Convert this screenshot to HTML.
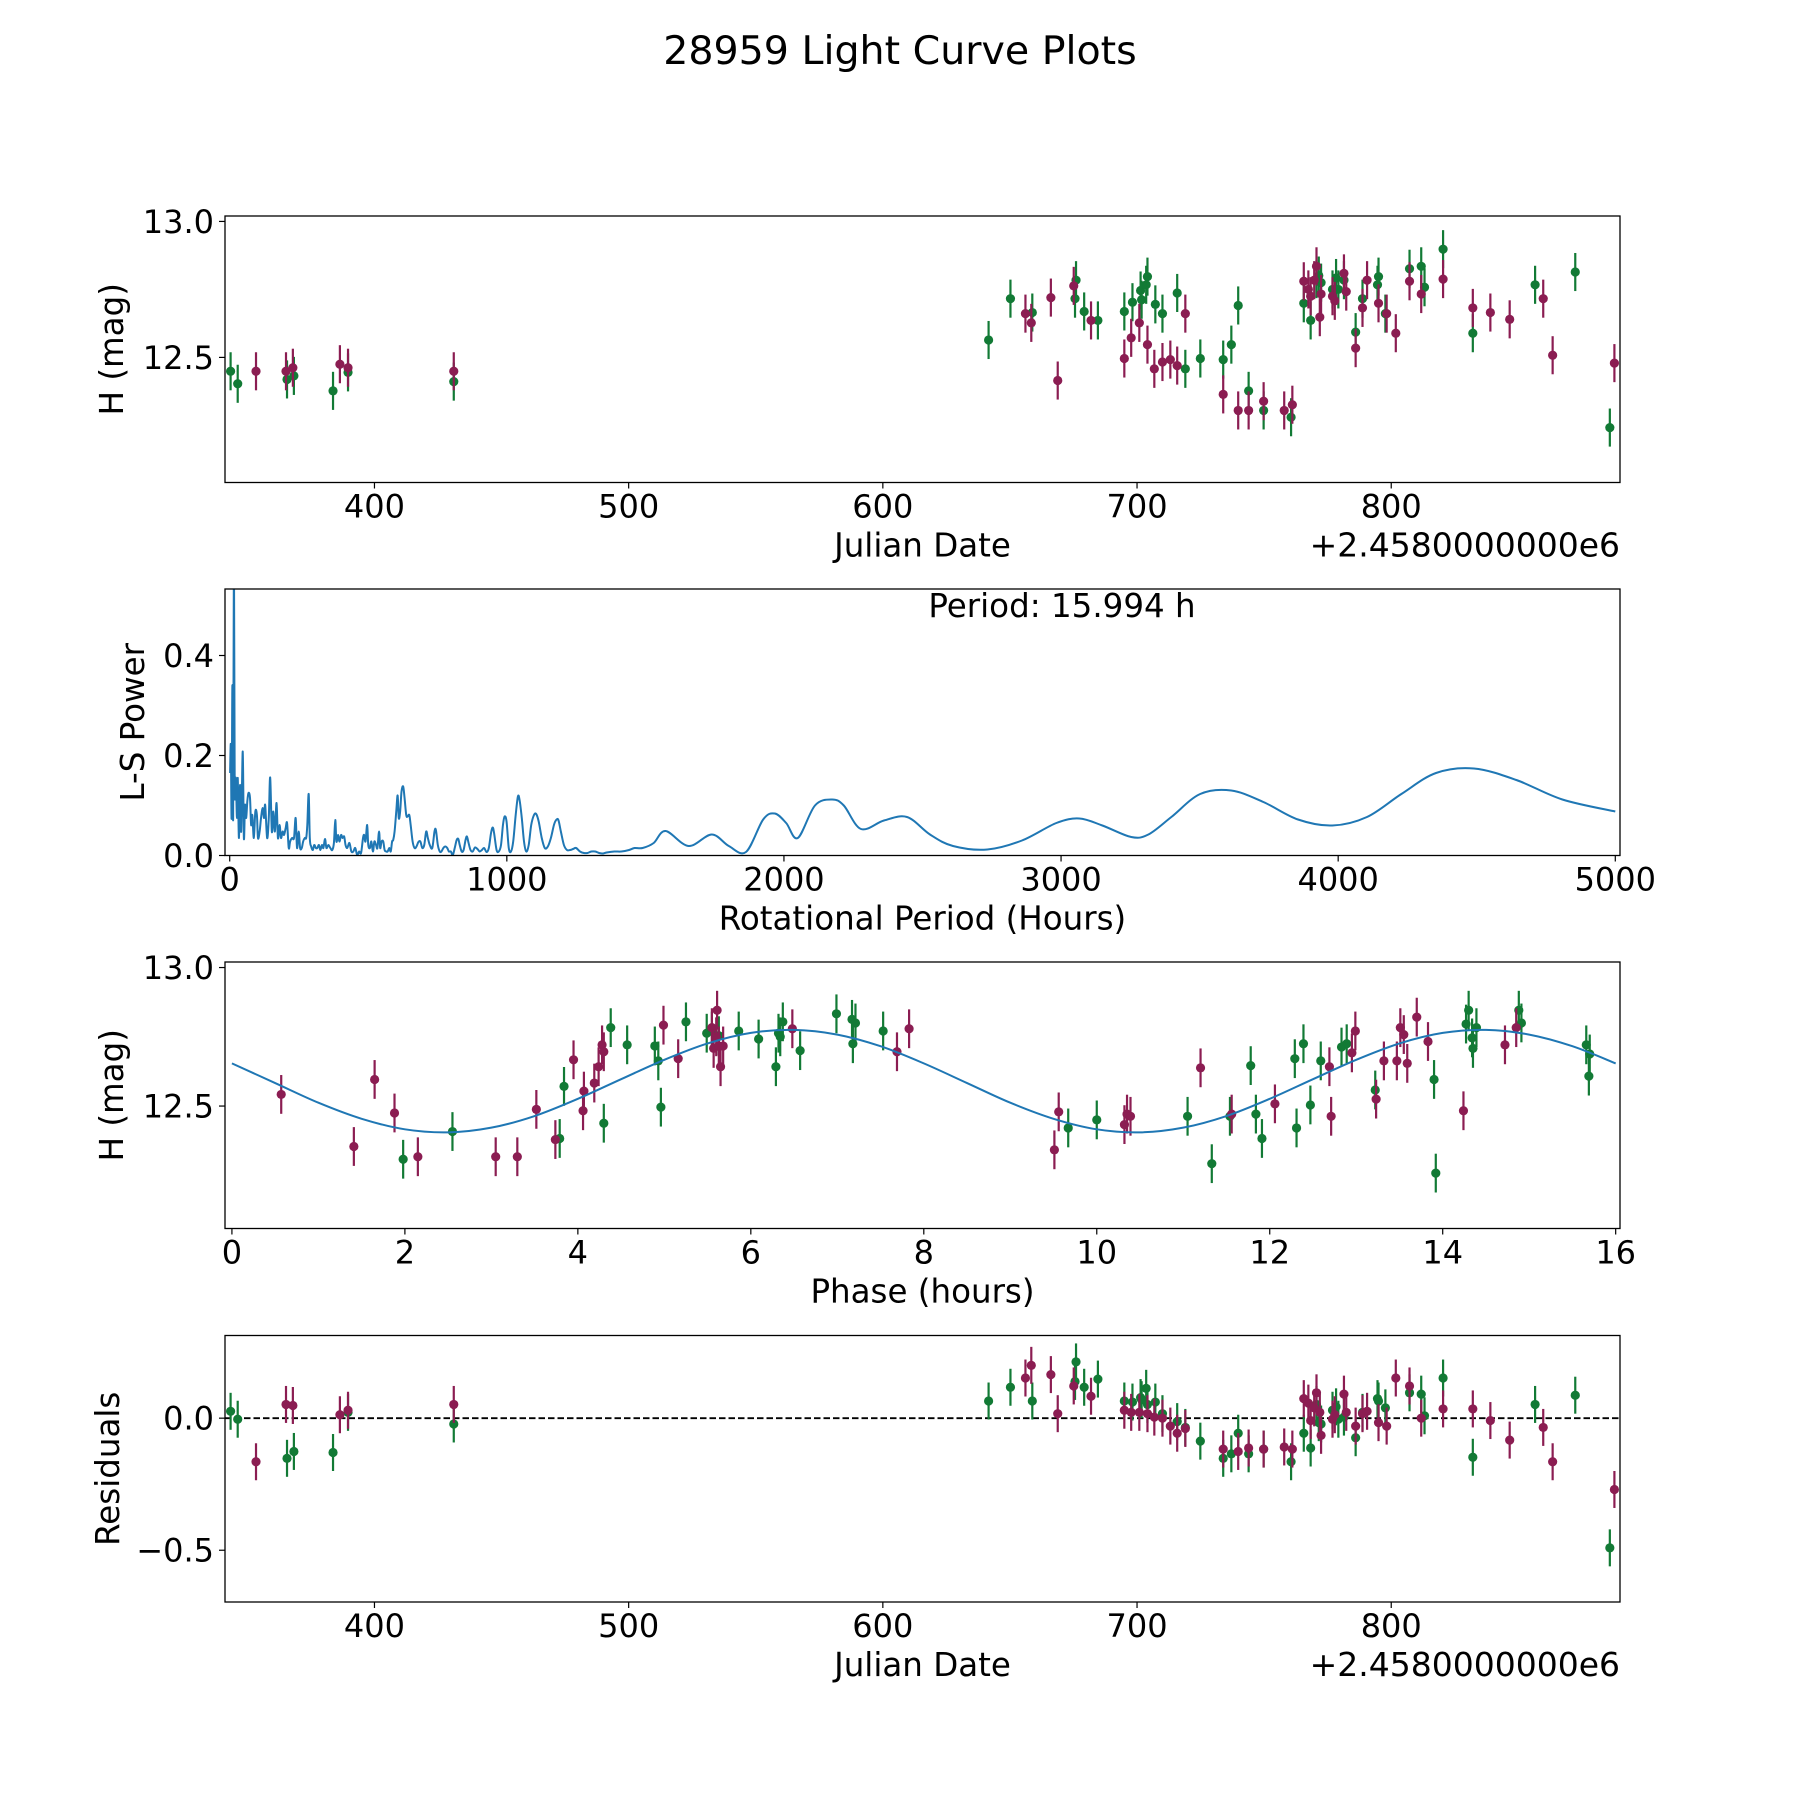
<!DOCTYPE html>
<html><head><meta charset="utf-8"><title>28959 Light Curve Plots</title>
<style>
html,body{margin:0;padding:0;background:#fff;}
svg{display:block;font-family:"DejaVu Sans","Liberation Sans",sans-serif;}
</style></head>
<body>
<svg id="fig" width="1800" height="1800" viewBox="0 0 1800 1800" xmlns="http://www.w3.org/2000/svg">
<rect x="0" y="0" width="1800" height="1800" fill="#fff"/>
<text x="900" y="64" font-size="39.5" text-anchor="middle">28959 Light Curve Plots</text>
</svg>
<script>
// ---------- data ----------
const jdGreen=[343.4,346.2,365.6,368.3,383.7,389.6,431.2,641.6,650.2,658.8,675.6,676.0,679.2,684.6,695.0,698.2,701.4,701.8,703.6,704.1,707.2,710.0,715.8,719.0,724.9,733.9,737.1,739.8,743.9,749.8,760.6,765.6,768.3,770.6,771.5,772.4,776.9,778.3,779.2,781.4,786.0,788.7,794.6,795.0,797.7,807.2,811.8,813.1,820.4,832.1,856.6,872.4,886.0];
const magGreen=[12.449,12.403,12.419,12.432,12.377,12.445,12.411,12.564,12.716,12.665,12.716,12.784,12.669,12.636,12.669,12.703,12.746,12.712,12.767,12.797,12.695,12.661,12.737,12.458,12.496,12.492,12.547,12.691,12.377,12.305,12.280,12.699,12.636,12.788,12.801,12.775,12.750,12.792,12.750,12.784,12.593,12.716,12.767,12.797,12.661,12.826,12.835,12.758,12.898,12.589,12.767,12.814,12.242];
const resGreen=[0.026,-0.004,-0.152,-0.126,-0.130,0.022,-0.022,0.065,0.117,0.065,0.139,0.213,0.117,0.148,0.065,0.061,0.078,0.070,0.113,0.052,0.061,0.017,-0.013,-0.035,-0.087,-0.152,-0.135,-0.057,-0.135,-0.117,-0.165,-0.057,-0.113,0.052,-0.017,-0.022,0.030,0.043,-0.004,0.004,-0.074,0.022,0.074,0.065,0.039,0.096,0.091,0.009,0.152,-0.148,0.052,0.087,-0.491];
const jdMag=[353.4,365.2,367.9,386.4,389.6,431.2,656.1,658.4,666.1,668.8,675.1,681.9,695.0,697.7,700.9,704.1,706.8,710.0,713.1,715.8,719.0,733.9,739.8,743.9,749.8,757.9,761.1,765.6,767.4,768.3,769.7,770.6,772.4,771.9,776.9,777.8,781.4,782.3,786.0,788.7,790.5,795.0,798.2,801.8,807.2,811.8,820.4,832.1,839.0,846.6,859.8,863.5,887.8];
const magMag=[12.449,12.449,12.462,12.475,12.462,12.449,12.661,12.627,12.720,12.415,12.763,12.636,12.496,12.572,12.627,12.547,12.458,12.483,12.492,12.470,12.661,12.364,12.305,12.305,12.339,12.305,12.326,12.780,12.750,12.725,12.784,12.835,12.733,12.648,12.725,12.708,12.809,12.742,12.534,12.682,12.784,12.699,12.661,12.589,12.780,12.733,12.788,12.682,12.665,12.640,12.716,12.508,12.479];
const resMag=[-0.165,0.052,0.048,0.013,0.030,0.052,0.152,0.200,0.165,0.017,0.122,0.083,0.030,0.022,0.022,0.017,0.004,0,-0.030,-0.057,-0.039,-0.117,-0.126,-0.113,-0.117,-0.109,-0.117,0.074,0.057,-0.009,0.039,0.096,-0.065,0.022,-0.004,0.013,0.091,0.022,-0.030,0.017,0.026,-0.017,-0.030,0.152,0.122,0,0.035,0.035,-0.009,-0.083,-0.035,-0.165,-0.270];
const errMag=0.07;
const phaseGreen=[1.98,2.55,3.79,3.84,4.30,4.38,4.57,4.89,4.93,4.96,5.25,5.49,5.55,5.63,5.86,6.09,6.29,6.32,6.34,6.37,6.57,6.99,7.17,7.21,7.18,7.53,9.67,10.0,11.05,11.33,11.54,11.78,11.84,11.91,12.29,12.31,12.39,12.47,12.59,12.83,12.89,13.22,13.90,13.92,14.27,14.30,14.34,14.35,14.39,14.88,14.91,15.66,15.69,15.70];
const phaseMagGreen=[12.308,12.408,12.383,12.571,12.438,12.783,12.721,12.717,12.663,12.496,12.804,12.763,12.771,12.754,12.771,12.742,12.642,12.763,12.75,12.804,12.7,12.833,12.813,12.8,12.725,12.771,12.421,12.45,12.463,12.292,12.463,12.646,12.471,12.383,12.671,12.421,12.725,12.504,12.663,12.713,12.725,12.558,12.596,12.258,12.796,12.846,12.746,12.708,12.783,12.846,12.8,12.721,12.608,12.688];
const phaseMag=[0.57,1.41,1.65,1.88,2.15,3.05,3.30,3.52,3.74,3.95,4.06,4.07,4.19,4.24,4.28,4.30,4.99,5.16,5.55,5.57,5.60,5.61,5.63,5.65,5.68,6.48,7.69,7.83,9.51,9.56,10.32,10.35,10.39,11.20,11.56,12.06,12.69,12.71,12.95,12.99,13.23,13.32,13.47,13.51,13.55,13.59,13.70,13.83,14.24,14.72,14.85];
const phaseMagMag=[12.542,12.354,12.596,12.475,12.317,12.317,12.317,12.488,12.379,12.667,12.483,12.554,12.583,12.642,12.721,12.696,12.792,12.671,12.783,12.708,12.75,12.846,12.717,12.642,12.717,12.779,12.696,12.779,12.342,12.479,12.433,12.471,12.463,12.638,12.471,12.508,12.642,12.463,12.692,12.771,12.525,12.663,12.663,12.783,12.758,12.654,12.821,12.733,12.483,12.721,12.783];
const fitPhase=[0,0.5,1,1.5,2,2.5,3,3.5,4,4.5,5,5.5,6,6.5,7,7.5,8,8.5,9,9.5,10,10.5,11,11.5,12,12.5,13,13.5,14,14.5,15,15.5,16];
const fitMag=[12.654,12.583,12.512,12.454,12.416,12.405,12.422,12.464,12.526,12.597,12.667,12.726,12.764,12.775,12.758,12.716,12.654,12.583,12.512,12.454,12.416,12.405,12.422,12.464,12.526,12.597,12.667,12.726,12.764,12.775,12.758,12.716,12.654];
const periods=[1.4,4.1,6.9,9.7,12.4,15.2,18,22.1,26.2,29,33.1,37.3,41.4,47,51.1,55.2,59.4,63.5,67.7,73.2,77.3,81.5,87,92.5,98.1,102,108,113,119,124,128,135,141,146,152,157,163,169,174,180,185,191,196,202,207,213,218,225,232,238,243,249,254,260,265,271,276,280,285,289,294,300,305,311,316,322,327,333,338,344,349,356,363,370,376,381,385,391,396,402,407,413,418,424,432,439,446,453,460,467,474,481,485,490,496,500,506,511,517,522,528,533,539,543,548,554,559,565,570,576,581,586,590,595,601,606,610,615,620,626,631,637,642,648,653,660,667,674,681,688,695,702,709,715,722,731,739,744,751,758,764,771,778,785,791,798,805,812,819,825,830,837,844,851,856,862,869,877,885,894,902,910,918,927,935,943,949,954,963,971,979,986,992,999,1007,1015,1023,1032,1040,1046,1054,1062,1070,1079,1088,1098,1106,1115,1126,1137,1148,1159,1170,1178,1186,1195,1206,1217,1228,1239,1250,1264,1278,1291,1305,1319,1333,1347,1360,1388,1413,1441,1461,1490,1530,1573,1656,1739,1801,1863,1925,1967,2008,2050,2112,2174,2216,2278,2361,2444,2527,2610,2734,2859,2983,3066,3149,3253,3315,3398,3502,3614,3730,3855,3979,4104,4228,4353,4490,4643,4809,5000];
const powers=[0.165,0.221,0.075,0.341,0.075,0.62,0.141,0.155,0.075,0.155,0.035,0.141,0.048,0.208,0.035,0.101,0.075,0.108,0.125,0.115,0.061,0.081,0.035,0.088,0.081,0.035,0.048,0.075,0.095,0.075,0.101,0.035,0.075,0.156,0.048,0.088,0.048,0.105,0.035,0.061,0.035,0.048,0.041,0.055,0.065,0.015,0.028,0.035,0.035,0.075,0.015,0.048,0.015,0.015,0.028,0.035,0.035,0.061,0.123,0.035,0.018,0.011,0.021,0.015,0.015,0.021,0.011,0.021,0.015,0.033,0.015,0.021,0.015,0.011,0.025,0.071,0.028,0.041,0.028,0.041,0.035,0.038,0.021,0.015,0.025,0.008,0.008,0.015,0.001,0.008,0.005,0.035,0.041,0.028,0.061,0.021,0.015,0.028,0.008,0.028,0.021,0.015,0.048,0.015,0.028,0.028,0.011,0.008,0.008,0.015,0.008,0.028,0.031,0.048,0.088,0.120,0.075,0.088,0.128,0.138,0.115,0.081,0.078,0.081,0.061,0.028,0.015,0.018,0.027,0.028,0.015,0.021,0.048,0.035,0.021,0.015,0.048,0.051,0.021,0.008,0.008,0.015,0.018,0.015,0.008,0.008,0.001,0.015,0.031,0.033,0.021,0.008,0.011,0.031,0.038,0.025,0.011,0.008,0.016,0.013,0.008,0.011,0.015,0.007,0.015,0.045,0.056,0.045,0.011,0.008,0.021,0.061,0.078,0.068,0.015,0.008,0.028,0.081,0.118,0.111,0.075,0.028,0.008,0.021,0.061,0.081,0.083,0.068,0.035,0.015,0.018,0.035,0.061,0.071,0.071,0.048,0.021,0.011,0.011,0.013,0.015,0.008,0.005,0.005,0.008,0.008,0.005,0.004,0.006,0.008,0.008,0.011,0.015,0.015,0.025,0.049,0.019,0.042,0.019,0.007,0.072,0.084,0.065,0.035,0.100,0.112,0.100,0.053,0.070,0.077,0.042,0.019,0.012,0.030,0.065,0.074,0.060,0.037,0.042,0.077,0.123,0.130,0.107,0.072,0.060,0.077,0.123,0.165,0.174,0.151,0.112,0.088];
const jdTicks=[400,500,600,700,800];
const hTicks=[12.5,13.0];
const periodTicks=[0,1000,2000,3000,4000,5000];
const powerTicks=[0,0.2,0.4];
const phaseTicks=[0,2,4,6,8,10,12,14,16];
const resTicks=[-0.5,0.0];

// ---------- layout ----------
const NS='http://www.w3.org/2000/svg';
const svg=document.getElementById('fig');
const L=225,R=1620,H=266.5;
const tops=[216,589,962,1335.5];
const GREEN='#127a35',MAG='#8b1d52',BLUE='#1f77b4';
function mk(tag,attrs,parent){const e=document.createElementNS(NS,tag);for(const k in attrs)e.setAttribute(k,attrs[k]);(parent||svg).appendChild(e);return e;}
function scale(d0,d1,p0,p1){return v=>p0+(v-d0)/(d1-d0)*(p1-p0);}

function makePanel(idx,name,xr,yr){
  const top=tops[idx],bot=top+H;
  const g=mk('g',{});
  
  
  const cp=mk('clipPath',{id:'clip'+idx},g);
  mk('rect',{x:L,y:top,width:R-L,height:H},cp);
  const plot=mk('g',{'clip-path':'url(#clip'+idx+')'},g);
  return {g,plot,top,bot,sx:scale(xr[0],xr[1],L,R),sy:scale(yr[0],yr[1],bot,top)};
}
function frame(p,label){
  const r=mk('rect',{x:L,y:p.top,width:R-L,height:H,fill:'none',stroke:'#000','stroke-width':1.3},p.g);
  
  
}
function xTicks(p,ticks,fmt,label){
  ticks.forEach(t=>{
    const x=p.sx(t);
    mk('line',{x1:x,y1:p.bot,x2:x,y2:p.bot+6,stroke:'#000','stroke-width':1.2},p.g);
    const tx=mk('text',{x:x,y:p.bot+35,'font-size':32,'text-anchor':'middle'},p.g);
    tx.textContent=fmt(t);
    
    
  });
}
function yTicks(p,ticks,fmt,label){
  ticks.forEach(t=>{
    const y=p.sy(t);
    mk('line',{x1:L-6,y1:y,x2:L,y2:y,stroke:'#000','stroke-width':1.2},p.g);
    const tx=mk('text',{x:L-11,y:y+11.5,'font-size':32,'text-anchor':'end'},p.g);
    tx.textContent=fmt(t);
    
    
  });
}
function xLabel(p,text,label){
  const t=mk('text',{x:(L+R)/2,y:p.bot+74,'font-size':32.5,'text-anchor':'middle'},p.g);
  t.textContent=text;
  
  
}
function yLabel(p,text,x,label){
  const cy=(p.top+p.bot)/2;
  const t=mk('text',{x:x,y:cy,'font-size':32.5,'text-anchor':'middle',transform:'rotate(-90 '+x+' '+cy+')'},p.g);
  t.textContent=text;
  
  
}
function offsetText(p,label){
  const t=mk('text',{x:R,y:p.bot+74,'font-size':33,'text-anchor':'end'},p.g);
  t.textContent='+2.4580000000e6';
  
  
}
function errPoints(p,xs,ys,err,color,label){
  const grp=mk('g',{},p.plot);
  
  
  xs.forEach((xv,i)=>{
    const x=p.sx(xv),y=p.sy(ys[i]);
    const l=mk('line',{x1:x,y1:p.sy(ys[i]-err),x2:x,y2:p.sy(ys[i]+err),stroke:color,'stroke-width':2.2},grp);
    
    
    const c=mk('circle',{cx:x,cy:y,r:4.6,fill:color},grp);
    
    
  });
}
function linePath(p,xs,ys,color,w,label){
  const P=xs.map((xv,i)=>[p.sx(xv),p.sy(ys[i])]);
  let d='M'+P[0][0].toFixed(2)+' '+P[0][1].toFixed(2);
  for(let i=0;i<P.length-1;i++){
    const p0=P[Math.max(0,i-1)],p1=P[i],p2=P[i+1],p3=P[Math.min(P.length-1,i+2)];
    const c1=[p1[0]+(p2[0]-p0[0])/6,p1[1]+(p2[1]-p0[1])/6];
    const c2=[p2[0]-(p3[0]-p1[0])/6,p2[1]-(p3[1]-p1[1])/6];
    d+=' C'+c1[0].toFixed(2)+' '+c1[1].toFixed(2)+' '+c2[0].toFixed(2)+' '+c2[1].toFixed(2)+' '+p2[0].toFixed(2)+' '+p2[1].toFixed(2);
  }
  const e=mk('path',{d:d,fill:'none',stroke:color,'stroke-width':w,'stroke-linejoin':'round'},p.plot);
  
  
}
const f1=v=>v.toFixed(1).replace('-','\u2212');
const f0=v=>String(v);

// Panel 1: light curve
const jdRange=[341.2,890];
const p1=makePanel(0,'light-curve-panel',jdRange,[12.04,13.02]);
errPoints(p1,jdGreen,magGreen,errMag,GREEN,'green-series');
errPoints(p1,jdMag,magMag,errMag,MAG,'magenta-series');
frame(p1,'light-curve');
xTicks(p1,jdTicks,f0,'light-curve');
yTicks(p1,hTicks,f1,'light-curve');
xLabel(p1,'Julian Date','light-curve');
yLabel(p1,'H (mag)',123,'light-curve');
offsetText(p1,'light-curve');

// Panel 2: periodogram
const p2=makePanel(1,'periodogram-panel',[-17,5017],[0,0.533]);
linePath(p2,periods,powers,BLUE,2,'periodogram-line');
frame(p2,'periodogram');
xTicks(p2,periodTicks,f0,'periodogram');
yTicks(p2,powerTicks,f1,'periodogram');
xLabel(p2,'Rotational Period (Hours)','periodogram');
yLabel(p2,'L-S Power',144,'periodogram');
const pt=mk('text',{x:1062,y:617,'font-size':32.5,'text-anchor':'middle'},p2.g);
pt.textContent='Period: 15.994 h';



// Panel 3: phase folded
const p3=makePanel(2,'phase-panel',[-0.08,16.05],[12.058,13.02]);
errPoints(p3,phaseGreen,phaseMagGreen,errMag,GREEN,'phase-green-series');
errPoints(p3,phaseMag,phaseMagMag,errMag,MAG,'phase-magenta-series');
linePath(p3,fitPhase,fitMag,BLUE,2,'fit-curve');
frame(p3,'phase');
xTicks(p3,phaseTicks,f0,'phase');
yTicks(p3,hTicks,f1,'phase');
xLabel(p3,'Phase (hours)','phase');
yLabel(p3,'H (mag)',123,'phase');

// Panel 4: residuals
const p4=makePanel(3,'residuals-panel',jdRange,[-0.696,0.313]);
const zl=mk('line',{x1:L,y1:p4.sy(0),x2:R,y2:p4.sy(0),stroke:'#000','stroke-width':1.8,'stroke-dasharray':'6.5,3'},p4.plot);


errPoints(p4,jdGreen,resGreen,errMag,GREEN,'residual-green-series');
errPoints(p4,jdMag,resMag,errMag,MAG,'residual-magenta-series');
frame(p4,'residuals');
xTicks(p4,jdTicks,f0,'residuals');
yTicks(p4,resTicks,f1,'residuals');
xLabel(p4,'Julian Date','residuals');
yLabel(p4,'Residuals',119,'residuals');
offsetText(p4,'residuals');
</script>
</body></html>
